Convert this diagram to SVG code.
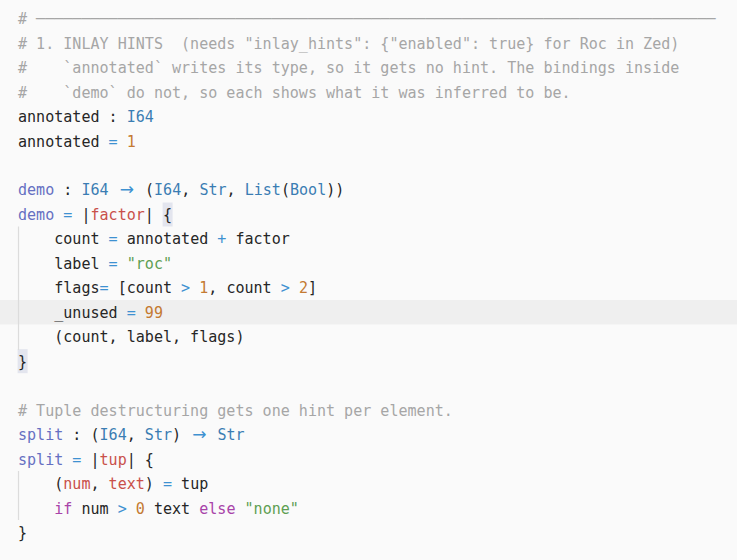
<svg xmlns="http://www.w3.org/2000/svg" width="737" height="560" viewBox="0 0 737 560">
<style>
text{font-family:"DejaVu Sans Mono","Liberation Mono",monospace;font-size:15.06px;fill:#262626;white-space:pre}
.c{fill:#a6a6a6}
.f{fill:#6670c2}
.t{fill:#3a7db3}
.o{fill:#3e91d1}
.n{fill:#c47a32}
.s{fill:#5e9f52}
.p{fill:#c9504a}
.k{fill:#a843a9}
.arrow{font-family:"DejaVu Sans",sans-serif;font-size:17px;fill:#3e91d1}
.guide{stroke:#dcdcdc;stroke-width:1.2}
.bm{fill:#e3e5ee}
</style>
<rect width="737" height="560" fill="#fafafa"/>
<rect id="current-line" x="0" y="300" width="737" height="24.5" fill="#efefef"/>
<g id="bracket-match">
<rect class="bm" x="162.6" y="202.5" width="10" height="24"/>
<rect class="bm" x="17.6" y="349.2" width="10" height="24"/>
</g>
<g id="indent-guides">
<line class="guide" x1="18.5" y1="226.5" x2="18.5" y2="350"/>
<line class="guide" x1="18.5" y1="471" x2="18.5" y2="520"/>
</g>
<g id="comment-header" transform="translate(0,1.2)">
<text x="18" y="23" xml:space="preserve" class="c"># ───────────────────────────────────────────────────────────────────────────</text>
<text x="18" y="47.5" xml:space="preserve" class="c"># 1. INLAY HINTS  (needs "inlay_hints": {"enabled": true} for Roc in Zed)</text>
<text x="18" y="71.9" xml:space="preserve" class="c">#    `annotated` writes its type, so it gets no hint. The bindings inside</text>
<text x="18" y="96.4" xml:space="preserve" class="c">#    `demo` do not, so each shows what it was inferred to be.</text>
</g>
<g id="annotated" transform="translate(0,1.2)">
<text x="18" y="120.9" xml:space="preserve">annotated : <tspan class="t">I64</tspan></text>
<text x="18" y="145.4" xml:space="preserve">annotated <tspan class="o">=</tspan> <tspan class="n">1</tspan></text>
</g>
<g id="demo" transform="translate(0,1.2)">
<text x="18" y="194.3" xml:space="preserve"><tspan class="f">demo</tspan> : <tspan class="t">I64</tspan></text>
<text x="126.8" y="194.3" class="arrow" text-anchor="middle">→</text>
<text x="145" y="194.3" xml:space="preserve">(<tspan class="t">I64</tspan>, <tspan class="t">Str</tspan>, <tspan class="t">List</tspan>(<tspan class="t">Bool</tspan>))</text>
<text x="18" y="218.8" xml:space="preserve"><tspan class="f">demo</tspan> <tspan class="o">=</tspan> |<tspan class="p">factor</tspan>| {</text>
<text x="18" y="243.3" xml:space="preserve">    count <tspan class="o">=</tspan> annotated <tspan class="o">+</tspan> factor</text>
<text x="18" y="267.8" xml:space="preserve">    label <tspan class="o">=</tspan> <tspan class="s">"roc"</tspan></text>
<text x="18" y="292.2" xml:space="preserve">    flags<tspan class="o">=</tspan> [count <tspan class="o">&gt;</tspan> <tspan class="n">1</tspan>, count <tspan class="o">&gt;</tspan> <tspan class="n">2</tspan>]</text>
<text x="18" y="316.7" xml:space="preserve">    _unused <tspan class="o">=</tspan> <tspan class="n">99</tspan></text>
<text x="18" y="341.2" xml:space="preserve">    (count, label, flags)</text>
<text x="18" y="365.7" xml:space="preserve">}</text>
</g>
<g id="split" transform="translate(0,1.2)">
<text x="18" y="414.6" xml:space="preserve" class="c"># Tuple destructuring gets one hint per element.</text>
<text x="18" y="439.1" xml:space="preserve"><tspan class="f">split</tspan> : (<tspan class="t">I64</tspan>, <tspan class="t">Str</tspan>)</text>
<text x="199.4" y="439.1" class="arrow" text-anchor="middle">→</text>
<text x="217.5" y="439.1" xml:space="preserve" class="t">Str</text>
<text x="18" y="463.6" xml:space="preserve"><tspan class="f">split</tspan> <tspan class="o">=</tspan> |<tspan class="p">tup</tspan>| {</text>
<text x="18" y="488" xml:space="preserve">    (<tspan class="p">num</tspan>, <tspan class="p">text</tspan>) <tspan class="o">=</tspan> tup</text>
<text x="18" y="512.5" xml:space="preserve">    <tspan class="k">if</tspan> num <tspan class="o">&gt;</tspan> <tspan class="n">0</tspan> text <tspan class="k">else</tspan> <tspan class="s">"none"</tspan></text>
<text x="18" y="537" xml:space="preserve">}</text>
</g>
</svg>
